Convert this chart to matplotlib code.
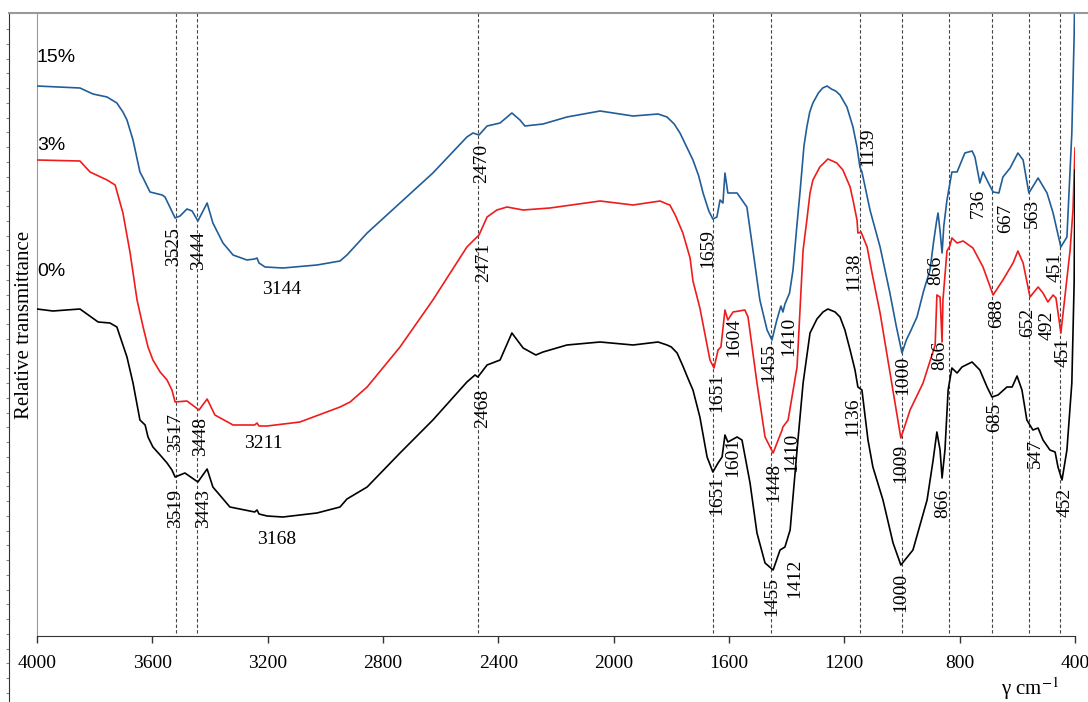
import numpy as np
import matplotlib
matplotlib.use("Agg")
import matplotlib.pyplot as plt
from matplotlib.lines import Line2D

plt.rcParams['font.family'] = ['Liberation Serif', 'DejaVu Serif']
plt.rcParams['mathtext.fontset'] = 'stix'

# %% spectra (wavenumber, relative transmittance a.u.)
wn_15 = [4000, 3851, 3806, 3757, 3723, 3702, 3688, 3667, 3643, 3632, 3608, 3566, 3556,
         3521, 3504, 3480, 3462, 3442, 3410, 3390, 3355, 3320, 3272, 3245, 3237,
         3230, 3209, 3147, 3029, 2949, 2925, 2855, 2741, 2627, 2509, 2488, 2467,
         2439, 2394, 2353, 2325, 2308, 2245, 2162, 2047, 1933, 1846, 1815, 1790, 1770,
         1750, 1725, 1705, 1690, 1670, 1656, 1642, 1631, 1621, 1614, 1604, 1572, 1538,
         1517, 1493, 1468, 1451, 1435, 1420, 1413, 1406, 1390, 1378, 1365, 1354, 1340,
         1330, 1320, 1309, 1290, 1275, 1260, 1245, 1230, 1215, 1191, 1170, 1156, 1146,
         1139, 1130, 1111, 1076, 1042, 1020, 1000, 985, 970, 948, 925, 903, 890, 880,
         875, 868, 861, 855, 844, 827, 809, 782, 757, 747, 730, 719, 702, 684, 664,
         650, 625, 598, 580, 560, 528, 497, 476, 449, 428, 411, 403, 400]
t_15 = [550, 548, 542, 539, 533, 524, 516, 496, 464, 458, 444, 441, 439,
        418, 420, 427, 425, 415, 433, 413, 393, 381, 376, 377, 378,
        373, 369, 368, 371, 375, 381, 403, 433, 463, 499, 503, 501,
        510, 513, 523, 516, 510, 512, 519, 525, 520, 522, 519, 512, 503,
        491, 476, 460, 443, 425, 417, 419, 436, 433, 463, 443, 443, 429,
        386, 336, 306, 296, 315, 330, 324, 332, 343, 366, 409, 443, 490,
        509, 524, 533, 543, 548, 550, 547, 545, 541, 529, 509, 489, 469,
        464, 452, 426, 389, 343, 310, 283, 296, 305, 319, 345, 366, 395, 415,
        423, 405, 383, 410, 436, 464, 464, 483, 485, 479, 453, 464, 454, 444, 443,
        459, 468, 483, 476, 443, 458, 443, 423, 389, 399, 503, 600, 660]

wn_3 = [4000, 3851, 3816, 3757, 3729, 3702, 3677, 3653, 3632, 3615, 3598, 3573, 3549,
        3532, 3521, 3480, 3438, 3410, 3383, 3320, 3245, 3237, 3230, 3202, 3088, 2949,
        2914, 2855, 2741, 2627, 2509, 2467, 2439, 2405, 2370, 2314, 2221, 2047,
        1933, 1839, 1815, 1805, 1785, 1760, 1735, 1725, 1701, 1666, 1652, 1638, 1628,
        1614, 1604, 1586, 1545, 1534, 1503, 1475, 1447, 1416, 1413, 1395, 1364, 1343,
        1330, 1319, 1309, 1285, 1257, 1226, 1205, 1180, 1170, 1156, 1153, 1142, 1121,
        1104, 1076, 1004, 972, 927, 885, 879, 868, 861, 858, 844, 834, 827, 809,
        788, 754, 719, 684, 650, 615, 598, 580, 556, 528, 511, 494, 476, 466, 449,
        417, 407, 400]
t_3 = [476, 475, 464, 456, 451, 423, 383, 336, 309, 289, 276, 264, 256,
       246, 234, 235, 226, 237, 221, 211, 211, 213, 210, 210, 214, 229,
       234, 249, 289, 336, 389, 401, 419, 426, 429, 426, 428, 435,
       431, 435, 432, 431, 420, 403, 378, 355, 328, 276, 268, 286, 289,
       326, 316, 324, 326, 319, 253, 199, 183, 206, 209, 216, 269, 386,
       416, 443, 456, 469, 477, 473, 466, 449, 436, 416, 403, 404, 389,
       363, 323, 198, 226, 253, 291, 341, 339, 294, 336, 385, 390, 398, 393,
       395, 388, 369, 341, 356, 373, 385, 373, 339, 349, 343, 334, 341, 338, 303,
       386, 426, 488]

wn_0 = [4000, 3945, 3851, 3788, 3747, 3723, 3688, 3667, 3643, 3625, 3615, 3598, 3573,
        3549, 3532, 3521, 3487, 3442, 3410, 3390, 3331, 3245, 3237, 3230, 3202, 3147,
        3029, 2949, 2925, 2855, 2741, 2627, 2509, 2481, 2471, 2439, 2394, 2353, 2314,
        2270, 2245, 2162, 2047, 1933, 1846, 1815, 1800, 1780, 1760, 1740, 1725, 1701,
        1676, 1656, 1638, 1624, 1614, 1604, 1572, 1555, 1527, 1503, 1475, 1447, 1423,
        1406, 1388, 1364, 1343, 1319, 1295, 1274, 1257, 1232, 1215, 1198, 1180, 1163,
        1153, 1139, 1118, 1101, 1066, 1031, 1004, 962, 913, 892, 879, 868, 861, 851,
        840, 827, 809, 792, 757, 730, 705, 688, 667, 636, 618, 601, 584, 567, 546,
        528, 511, 487, 469, 459, 445, 428, 411, 403, 400]
t_0 = [327, 325, 327, 314, 313, 309, 279, 253, 216, 211, 199, 189, 181,
       173, 166, 159, 163, 154, 167, 149, 129, 124, 126, 122, 120, 119,
       123, 129, 137, 149, 183, 216, 254, 261, 259, 271, 276, 303, 288,
       281, 284, 291, 294, 291, 294, 291, 289, 283, 270, 256, 246, 219,
       179, 164, 173, 179, 201, 194, 199, 196, 153, 103, 73, 66, 86,
       89, 106, 186, 253, 303, 317, 324, 327, 324, 319, 306, 286, 266,
       249, 246, 196, 169, 136, 93, 71, 86, 136, 176, 204, 186, 158, 186,
       246, 268, 263, 269, 274, 266, 249, 239, 241, 249, 249, 260, 246, 216, 206,
       208, 196, 186, 184, 169, 156, 186, 253, 353, 466]

# marked bands (dashed guide lines)
band_lines = [3519, 3444, 2470, 1655, 1455, 1145, 1000, 838, 688, 560, 451]

# peak labels: text, x (cm-1), y (a.u.), rotation
peak_labels = [
    ("3525", 3525, 389, 90), ("3444", 3440, 386, 90), ("3144", 3150, 347, 0),
    ("3517", 3518, 204, 90), ("3448", 3431, 199, 90), ("3211", 3216, 192, 0),
    ("3519", 3518, 128, 90), ("3443", 3424, 128, 90), ("3168", 3168, 96, 0),
    ("2470", 2457, 473, 90), ("2471", 2450, 374, 90), ("2468", 2453, 228, 90),
    ("1659", 1673, 388, 90), ("1651", 1642, 244, 90), ("1604", 1583, 299, 90),
    ("1455", 1461, 273, 90), ("1410", 1392, 300, 90), ("1651", 1642, 141, 90),
    ("1601", 1586, 179, 90), ("1448", 1444, 154, 90), ("1410", 1382, 184, 90),
    ("1455", 1451, 39, 90), ("1412", 1371, 58, 90), ("1139", 1118, 489, 90),
    ("1138", 1167, 364, 90), ("1136", 1170, 219, 90), ("1000", 997, 261, 90),
    ("1009", 1004, 173, 90), ("1000", 1004, 44, 90), ("866", 882, 366, 90),
    ("866", 868, 281, 90), ("866", 858, 133, 90), ("736", 736, 433, 90),
    ("667", 639, 418, 90), ("563", 549, 423, 90), ("451", 469, 369, 90),
    ("688", 671, 323, 90), ("652", 563, 314, 90), ("492", 497, 311, 90),
    ("451", 442, 284, 90), ("685", 678, 219, 90), ("547", 539, 183, 90),
    ("452", 435, 134, 90),
]

series = [("15%", wn_15, t_15, "#215e98", 57), ("3%", wn_3, t_3, "#ee1c1c", 145),
          ("0%", wn_0, t_0, "#000000", 272)]

# %%
fig = plt.figure(figsize=(10.88, 7.02), dpi=100)
ax = fig.add_axes([37 / 1088, 66 / 702, 1038 / 1088, 623 / 702])

for x in band_lines:
    ax.plot([x, x], [3, 623], color="#444444", lw=0.8, ls=(0, (3, 2)), zorder=1)

for name, wn, t, col, ty in series:
    ax.plot(wn, t, color=col, lw=1.2, zorder=3)
    fig.text(37 / 1088, 1 - ty / 702, name, fontsize=14, family="Liberation Sans",
             ha="left", va="center")

for txt, x, y, rot in peak_labels:
    ax.text(x, y, txt, fontsize=14, rotation=rot, ha="center", va="center", zorder=4)

ax.set_xlim(4000, 400)
ax.set_ylim(0, 623)
ax.set_xticks(np.arange(4000, 399, -400))
ax.set_yticks([])
ax.tick_params(axis="x", direction="out", length=5, width=1, labelsize=14, pad=9,
               color="#333333")
for s in ["top", "right"]:
    ax.spines[s].set_visible(False)
ax.spines["left"].set_color("#999999")
ax.spines["bottom"].set_color("#333333")

# chart frame: top border and outer axis line with small ticks
fig.add_artist(Line2D([9 / 1088, 1], [1 - 13 / 702, 1 - 13 / 702], color="#999999", lw=1.5))
ax2 = fig.add_axes([9 / 1088, 0, 0.001, 689 / 702])
ax2.set_ylim(702, 13)
ax2.set_yticks(np.arange(29, 702, 14.75))
ax2.set_yticklabels([])
ax2.set_xticks([])
ax2.tick_params(axis="y", direction="out", length=2.5, color="#888888")
for s in ["top", "right", "bottom"]:
    ax2.spines[s].set_visible(False)
ax2.spines["left"].set_color("#333333")
ax2.patch.set_visible(False)

fig.text(25 / 1088, 1 - 325 / 702, "Relative transmittance", fontsize=15,
         rotation=90, ha="center", va="center")
fig.text(1030 / 1088, 1 - 689 / 702, r"γ cm$^{-1}$", fontsize=15,
         ha="center", va="center")

fig.savefig("out.png", dpi=100)
